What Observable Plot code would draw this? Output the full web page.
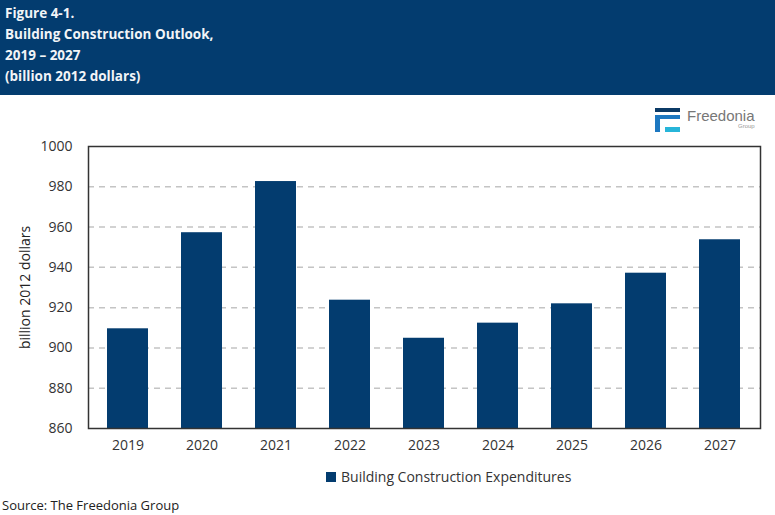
<!DOCTYPE html>
<html>
<head>
<meta charset="utf-8">
<script src="https://cdn.jsdelivr.net/npm/d3@7"></script>
<script src="https://cdn.jsdelivr.net/npm/@observablehq/plot@0.6"></script>
<style>
  body { margin: 0; background: #fff; font-family: "Open Sans", sans-serif; }
  #wrap { position: relative; width: 775px; height: 515px; overflow: hidden; }
  #header { position: absolute; left: 0; top: 0; width: 775px; height: 95px; background: #033c6f; }
  #header div { position: absolute; left: 5px; color: #f2f4f7; font-weight: bold; font-size: 13.5px; font-family: "Open Sans", sans-serif; }
  #chart { position: absolute; left: 0; top: 95px; }
  #legend { position: absolute; top: 467px; left: 326px; font-size: 14px; color: #333; display: flex; align-items: center; }
  #legend span.sw { display: inline-block; width: 10px; height: 10px; background: #033c6f; margin-right: 5px; }
  #source { position: absolute; left: 2px; top: 496px; font-size: 13px; color: #222; }
  #logo { position: absolute; left: 655px; top: 106px; width: 110px; height: 28px; }
</style>
</head>
<body>
<div id="wrap">
  <div id="header">
    <div style="top:4px">Figure 4-1.</div>
    <div style="top:25px">Building Construction Outlook,</div>
    <div style="top:46px">2019 – 2027</div>
    <div style="top:67px">(billion 2012 dollars)</div>
  </div>
  <div id="logo">
    <div style="position:absolute;left:0;top:2px;width:25px;height:4px;background:#0b3a66"></div>
    <div style="position:absolute;left:0;top:9px;width:25px;height:4px;background:#1d78c1"></div>
    <div style="position:absolute;left:0;top:9px;width:5px;height:17px;background:#1d78c1"></div>
    <div style="position:absolute;left:10px;top:21px;width:15px;height:5px;background:#27b5d9"></div>
    <div style="position:absolute;left:32px;top:1px;font-size:15px;color:#777;font-family:'Liberation Sans',sans-serif;">Freedonia</div>
    <div style="position:absolute;left:83px;top:17px;font-size:6px;color:#999;font-family:'Liberation Sans',sans-serif;">Group</div>
  </div>
  <div id="chart"></div>
  <div id="legend"><span class="sw"></span>Building Construction Expenditures</div>
  <div id="source">Source: The Freedonia Group</div>
</div>
<script>
const years = ["2019","2020","2021","2022","2023","2024","2025","2026","2027"];
const values = [909.5, 957.2, 982.6, 923.7, 904.8, 912.3, 921.9, 937.1, 953.7];
const yTicks = [860, 880, 900, 920, 940, 960, 980, 1000];
const gridTicks = [880, 900, 920, 940, 960, 980];
const seriesName = "Building Construction Expenditures";

const data = years.map((y, i) => ({year: y, value: values[i], series: seriesName}));

const chart = Plot.plot({
  width: 775,
  height: 370,
  marginTop: 51,
  marginBottom: 37,
  marginLeft: 88,
  marginRight: 15,
  style: {fontFamily: "Open Sans, sans-serif", fontSize: "14px", color: "#333", background: "transparent"},
  x: {domain: years, paddingInner: 0.44, paddingOuter: 0.22, label: null},
  y: {domain: [860, 1000], label: null},
  marks: [
    Plot.gridY(gridTicks, {stroke: "#c4c4c4", strokeOpacity: 1, strokeWidth: 1.5, strokeDasharray: "6,5"}),
    Plot.barY(data, {x: "year", y1: 860, y2: "value", fill: "#033c6f"}),
    Plot.frame({stroke: "#333", strokeWidth: 1.5}),
    Plot.axisY(yTicks, {tickSize: 0, tickPadding: 16, fontSize: 14, fill: "#333", label: null, tickFormat: d => String(d)}),
    Plot.axisX({tickSize: 0, tickPadding: 12, fontSize: 14, fill: "#333", label: null}),
    Plot.text(["billion 2012 dollars"], {frameAnchor: "left", textAnchor: "middle", dx: -63, rotate: -90, fontSize: 14, fill: "#222"})
  ]
});
document.getElementById("chart").appendChild(chart);
</script>
</body>
</html>
